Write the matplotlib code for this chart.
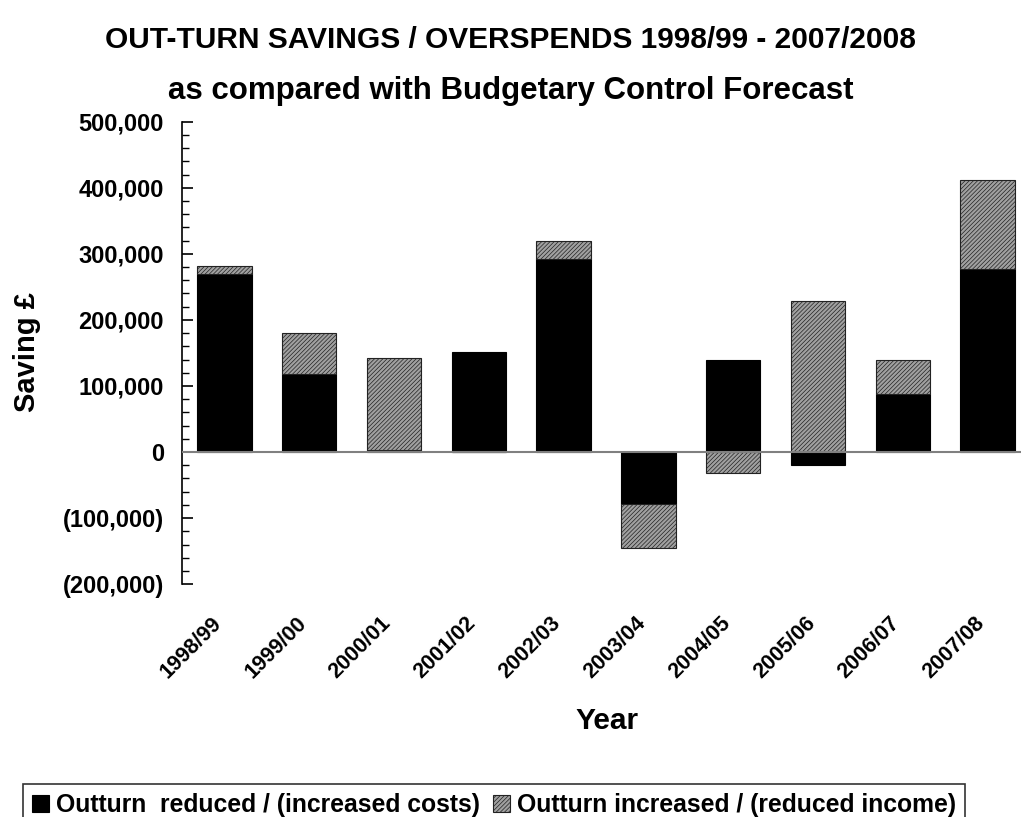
import numpy as np
import matplotlib.pyplot as plt
import matplotlib.transforms as mtransforms
from matplotlib.ticker import FuncFormatter, MultipleLocator

years = ['1998/99', '1999/00', '2000/01', '2001/02', '2002/03',
         '2003/04', '2004/05', '2005/06', '2006/07', '2007/08']
# outturn reduced / (increased costs)
costs = [270000, 118000, 3000, 152000, 292000, -78000, 139000, -19000, 88000, 277000]
# outturn increased / (reduced income)
income = [11000, 62000, 140000, 0, 27000, -68000, -32000, 229000, 51000, 135000]

label_costs = 'Outturn  reduced / (increased costs)'
label_income = 'Outturn increased / (reduced income)'

plt.rcParams['font.family'] = ['Liberation Sans', 'DejaVu Sans']
plt.rcParams['font.weight'] = 'bold'
plt.rcParams['hatch.color'] = '#4a4a4a'
plt.rcParams['hatch.linewidth'] = 0.5


def money(v, pos):
    if v == 0:
        return '0'
    if v < 0:
        return '({:,.0f})'.format(-v)
    return '{:,.0f}'.format(v)


def main():
    costs_a = np.array(costs, dtype=float)
    income_a = np.array(income, dtype=float)
    # stack positives on positives and negatives on negatives (like Excel)
    base = np.where(np.sign(income_a) == np.sign(costs_a), costs_a, 0.0)

    fig = plt.figure(figsize=(10.21, 8.17), dpi=100)
    ax = fig.add_axes([182 / 1021, 0.285, 848 / 1021, 0.566])
    x = np.arange(len(years))
    w = 0.64
    ax.bar(x, costs_a, w, color='black', edgecolor='black', linewidth=0.8,
           label=label_costs, zorder=2)
    ax.bar(x, income_a, w, bottom=base, color='#a0a0a0', edgecolor='#222222',
           linewidth=0.8, hatch='////////', label=label_income, zorder=2)

    ax.axhline(0, color='#808080', linewidth=1.5, zorder=3)
    ax.set_xlim(-0.5, len(years) - 0.5)
    ax.set_ylim(-200000, 500000)
    ax.yaxis.set_major_locator(MultipleLocator(100000))
    ax.yaxis.set_minor_locator(MultipleLocator(20000))
    ax.yaxis.set_major_formatter(FuncFormatter(money))
    ax.tick_params(axis='y', which='major', direction='in', length=8, width=1.2,
                   labelsize=17, pad=13)
    ax.tick_params(axis='y', which='minor', direction='in', length=5, width=1)
    ax.tick_params(axis='x', length=0, pad=26)
    for s in ['top', 'right', 'bottom']:
        ax.spines[s].set_visible(False)
    ax.spines['left'].set_linewidth(1.2)

    ax.set_xticks(x)
    ax.set_xticklabels(years, rotation=45, ha='right', va='center',
                       rotation_mode='anchor', fontsize=15.5, fontweight='bold')
    shift = mtransforms.ScaledTranslation(-6 / 100, 0, fig.dpi_scale_trans)
    for t in ax.get_xticklabels():
        t.set_transform(t.get_transform() + shift)
    for t in ax.get_yticklabels():
        t.set_fontweight('bold')

    ax.set_ylabel('Saving £', fontsize=21, fontweight='bold')
    ax.yaxis.set_label_coords(27 / 1021, 1 - 352 / 817, transform=fig.transFigure)
    ax.yaxis.label.set_va('center')
    ax.set_xlabel('Year', fontsize=21.5, fontweight='bold')
    ax.xaxis.set_label_coords(607 / 1021, 1 - 721 / 817, transform=fig.transFigure)
    ax.xaxis.label.set_va('center')

    fig.text(0.5, 1 - 40 / 817, 'OUT-TURN SAVINGS / OVERSPENDS 1998/99 - 2007/2008',
             ha='center', va='center', fontsize=21.5, fontweight='bold')
    fig.text(0.5, 1 - 91 / 817, 'as compared with Budgetary Control Forecast',
             ha='center', va='center', fontsize=22.5, fontweight='bold')

    leg = fig.legend(loc='center', bbox_to_anchor=(494 / 1021, 1 - 805 / 817), ncol=2,
                     fontsize=17.8, frameon=True, fancybox=False,
                     handlelength=0.7, handleheight=0.7, handletextpad=0.3,
                     columnspacing=0.5, borderpad=0.35, borderaxespad=0)
    leg.get_frame().set_edgecolor('black')
    leg.get_frame().set_linewidth(1.2)
    for t in leg.get_texts():
        t.set_fontweight('bold')

    fig.savefig('out.png', dpi=100)


if __name__ == '__main__':
    main()
